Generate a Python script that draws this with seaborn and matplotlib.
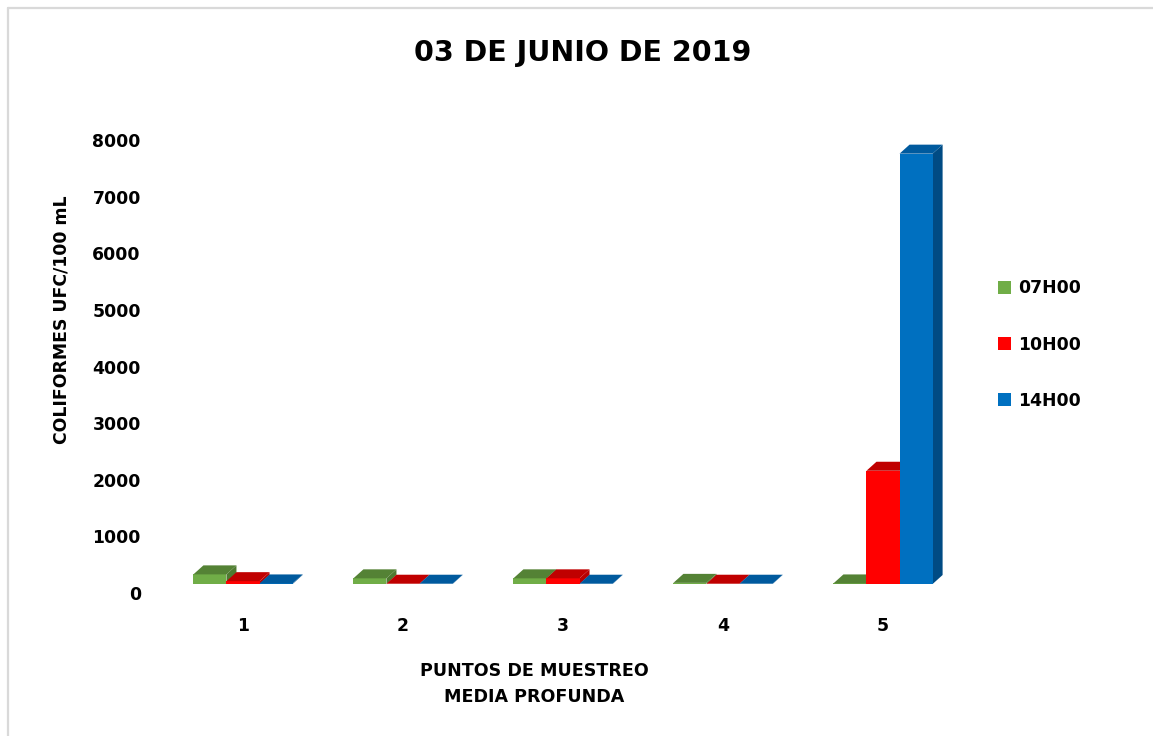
import numpy as np
import pandas as pd
import matplotlib
matplotlib.use("Agg")
import matplotlib.pyplot as plt
import seaborn as sns
from matplotlib.patches import Polygon, Patch
from matplotlib.lines import Line2D
from matplotlib.transforms import ScaledTranslation

# Coliform counts (UFC/100 mL) per sampling point and hour
puntos = ["1", "2", "3", "4", "5"]
horas = ["07H00", "10H00", "14H00"]
ufc_07h00 = [170, 100, 100, 20, 10]
ufc_10h00 = [50, 5, 100, 5, 2000]
ufc_14h00 = [10, 5, 5, 5, 7600]
y_ticks = [0, 1000, 2000, 3000, 4000, 5000, 6000, 7000, 8000]

front_colors = ["#70AD47", "#FF0000", "#0070C0"]
top_colors = ["#548235", "#C00000", "#005A9E"]
side_colors = ["#4E7A30", "#B80000", "#004B84"]

df = pd.DataFrame({
    "punto": puntos * 3,
    "hora": np.repeat(horas, len(puntos)),
    "ufc": ufc_07h00 + ufc_10h00 + ufc_14h00,
})

sns.set_theme(style="white")
plt.rcParams["font.family"] = ["DejaVu Sans"]
plt.rcParams["font.weight"] = "bold"
for key in ("text.color", "xtick.color", "ytick.color", "axes.labelcolor"):
    plt.rcParams[key] = "black"

W, H = 1153, 736
fig = plt.figure(figsize=(W / 100, H / 100), dpi=100)
ax = fig.add_axes([163 / W, 1 - 584 / H, 800 / W, 453 / H])

sns.barplot(data=df, x="punto", y="ufc", hue="hora", hue_order=horas,
            palette=front_colors, saturation=1, width=0.62, errorbar=None,
            legend=False, ax=ax)

ax.set_xlim(-0.5, 4.5)
ax.set_ylim(0, 8000)
ax.set_yticks(y_ticks)
ax.set_yticklabels([str(v) for v in y_ticks])
ax.set_xlabel("")
ax.set_ylabel("")
sns.despine(ax=ax, left=True, bottom=True)
ax.tick_params(axis="both", length=0, labelsize=12.4, labelcolor="black")
ax.tick_params(axis="y", pad=16)
ax.tick_params(axis="x", pad=24)
for lab in ax.get_yticklabels() + ax.get_xticklabels():
    lab.set_fontweight("bold")
# y labels sit on the front edge of the floor, slightly below the baseline
off = ScaledTranslation(0, -0.09, fig.dpi_scale_trans)
for lab in ax.get_yticklabels():
    lab.set_transform(lab.get_transform() + off)

# depth of the 3D extrusion, in pixels converted to data units
dx_px, dy_px = 10, 9
dx = dx_px * (ax.get_xlim()[1] - ax.get_xlim()[0]) / 800
dy = dy_px * (ax.get_ylim()[1] - ax.get_ylim()[0]) / 453

for i, cont in enumerate(ax.containers):
    z = 2 + i
    for bar in cont:
        x0 = bar.get_x()
        w = bar.get_width()
        h = bar.get_height()
        x1 = x0 + w
        bar.set_zorder(z + 0.5)
        bar.set_edgecolor("none")
        side = Polygon([(x1, 0), (x1, h), (x1 + dx, h + dy), (x1 + dx, dy)],
                       closed=True, facecolor=side_colors[i], edgecolor="none",
                       zorder=z)
        top = Polygon([(x0, h), (x1, h), (x1 + dx, h + dy), (x0 + dx, h + dy)],
                      closed=True, facecolor=top_colors[i], edgecolor="none",
                      zorder=z + 0.5)
        ax.add_patch(side)
        ax.add_patch(top)

handles = [Patch(facecolor=c, edgecolor="none") for c in front_colors]
fig.legend(handles, horas, loc="center left",
           bbox_to_anchor=(982 / W, 1 - 344.5 / H), frameon=False,
           handlelength=0.8, handleheight=0.8, handletextpad=0.4,
           labelspacing=2.22, prop=dict(weight="bold", size=12.4))

fig.text(583 / W, 1 - 53 / H, "03 DE JUNIO DE 2019", ha="center", va="center",
         fontsize=20.5, fontweight="bold")
fig.text(62 / W, 1 - 320 / H, "COLIFORMES UFC/100 mL", ha="center",
         va="center", rotation=90, fontsize=12.4, fontweight="bold")
fig.text(534 / W, 1 - 684 / H, "PUNTOS DE MUESTREO\nMEDIA PROFUNDA",
         ha="center", va="center", linespacing=1.6, fontsize=12.6,
         fontweight="bold")

# chart frame
fig.add_artist(Line2D([7.5 / W, 7.5 / W], [1 - 7.5 / H, 0], color="#D9D9D9",
                      lw=1.6, transform=fig.transFigure))
fig.add_artist(Line2D([7.5 / W, 1], [1 - 7.5 / H, 1 - 7.5 / H],
                      color="#D9D9D9", lw=1.6, transform=fig.transFigure))

fig.savefig("out.png", dpi=100)
